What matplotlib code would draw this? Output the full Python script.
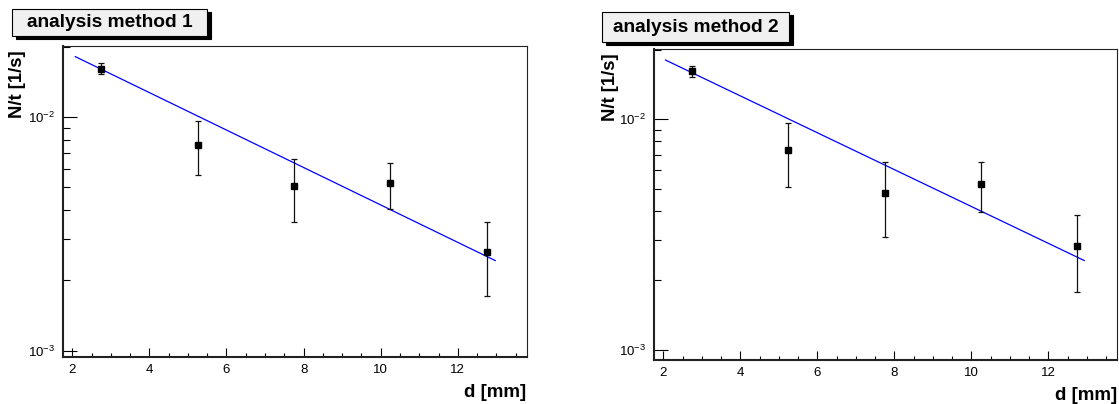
import matplotlib
matplotlib.use('Agg')
import matplotlib.pyplot as plt
import matplotlib.patches as patches
from matplotlib.ticker import LogLocator, FixedLocator, NullFormatter, MultipleLocator

plt.rcParams['font.family'] = ['Liberation Sans', 'DejaVu Sans']
plt.rcParams['mathtext.fontset'] = 'custom'
plt.rcParams['mathtext.rm'] = 'Liberation Sans'
plt.rcParams['mathtext.it'] = 'Liberation Sans'
plt.rcParams['mathtext.bf'] = 'Liberation Sans:bold'

# distance in mm
d = [2.75, 5.25, 7.75, 10.25, 12.75]

# method 1: rate and error
rate1 = [0.0161, 0.00761, 0.00508, 0.00520, 0.00264]
err1 = [0.00082, 0.00198, 0.00151, 0.00116, 0.00092]
fit1_x = [2.08, 12.97]
fit1_y = [0.0181, 0.00243]

# method 2: rate and error
rate2 = [0.0161, 0.00734, 0.00480, 0.00523, 0.00282]
err2 = [0.00093, 0.00224, 0.00172, 0.00127, 0.00103]
fit2_x = [2.06, 12.93]
fit2_y = [0.0180, 0.00244]

titles = ['analysis method 1', 'analysis method 2']

W, H = 1119, 404
fig = plt.figure(figsize=(W / 100, H / 100), dpi=100)


def px_rect(x0, y0, x1, y1):
    # pixel box (top-left origin) -> figure fraction [l, b, w, h]
    return [x0 / W, 1 - y1 / H, (x1 - x0) / W, (y1 - y0) / H]


def draw_panel(rect, rate, err, fx, fy, ylim, title, box, ylab_x):
    ax = fig.add_axes(rect)
    ax.set_yscale('log')
    ax.set_xlim(1.76, 13.78)
    ax.set_ylim(*ylim)

    ax.plot(fx, fy, color='#0000ff', lw=0.9, zorder=2)
    ax.errorbar(d, rate, yerr=err, fmt='s', color='black', ms=5,
                ecolor='#111111', elinewidth=0.9, capsize=2, capthick=0.9, zorder=3)

    for s in ['left', 'bottom']:
        ax.spines[s].set_linewidth(1.5)
        ax.spines[s].set_color('#222222')
    for s in ['top', 'right']:
        ax.spines[s].set_linewidth(0.8)
        ax.spines[s].set_color('#222222')

    ax.xaxis.set_major_locator(MultipleLocator(2))
    ax.xaxis.set_minor_locator(MultipleLocator(0.5))
    ax.yaxis.set_major_locator(FixedLocator([1e-3, 1e-2]))
    ax.yaxis.set_minor_locator(LogLocator(base=10, subs=range(2, 10)))
    ax.yaxis.set_minor_formatter(NullFormatter())
    ax.set_yticklabels([r'$10^{-3}$', r'$10^{-2}$'])

    ax.tick_params(axis='x', which='major', direction='in', length=6.5, width=0.8,
                   labelsize=9.5, pad=5, top=False)
    ax.tick_params(axis='x', which='minor', direction='in', length=3.2, width=0.8, top=False)
    ax.tick_params(axis='y', which='major', direction='in', length=10, width=0.8,
                   labelsize=9.5, pad=6, right=False)
    ax.tick_params(axis='y', which='minor', direction='in', length=5, width=0.8, right=False)

    ax.set_xlabel('d [mm]', fontsize=13.5, fontweight='bold', loc='right', labelpad=6)
    ax.set_ylabel('N/t [1/s]', fontsize=13.3, fontweight='bold', loc='top')
    ax.yaxis.set_label_coords(ylab_x, 0.985)

    # title box with shadow
    x0, y0, x1, y1 = box
    sh = px_rect(x0 + 4, y0 + 3, x1 + 4, y1 + 3)
    fig.patches.append(patches.Rectangle((sh[0], sh[1]), sh[2], sh[3], transform=fig.transFigure,
                                         facecolor='black', edgecolor='black', lw=0.8))
    r = px_rect(x0, y0, x1, y1)
    fig.patches.append(patches.Rectangle((r[0], r[1]), r[2], r[3], transform=fig.transFigure,
                                         facecolor='#f0f0f0', edgecolor='black', lw=0.8))
    fig.text(r[0] + r[2] / 2, r[1] + r[3] / 2, title, ha='center', va='center',
             fontsize=13.8, fontweight='bold')
    return ax


draw_panel(px_rect(63, 45.5, 526.5, 356.7), rate1, err1, fit1_x, fit1_y,
           (9.43e-4, 0.0202), titles[0], (11.7, 9, 207, 36), -0.080)
draw_panel(px_rect(654, 49, 1117, 359.7), rate2, err2, fit2_x, fit2_y,
           (9.08e-4, 0.0201), titles[1], (602.3, 12, 788.5, 42), -0.076)

fig.savefig('out.png', dpi=100)
